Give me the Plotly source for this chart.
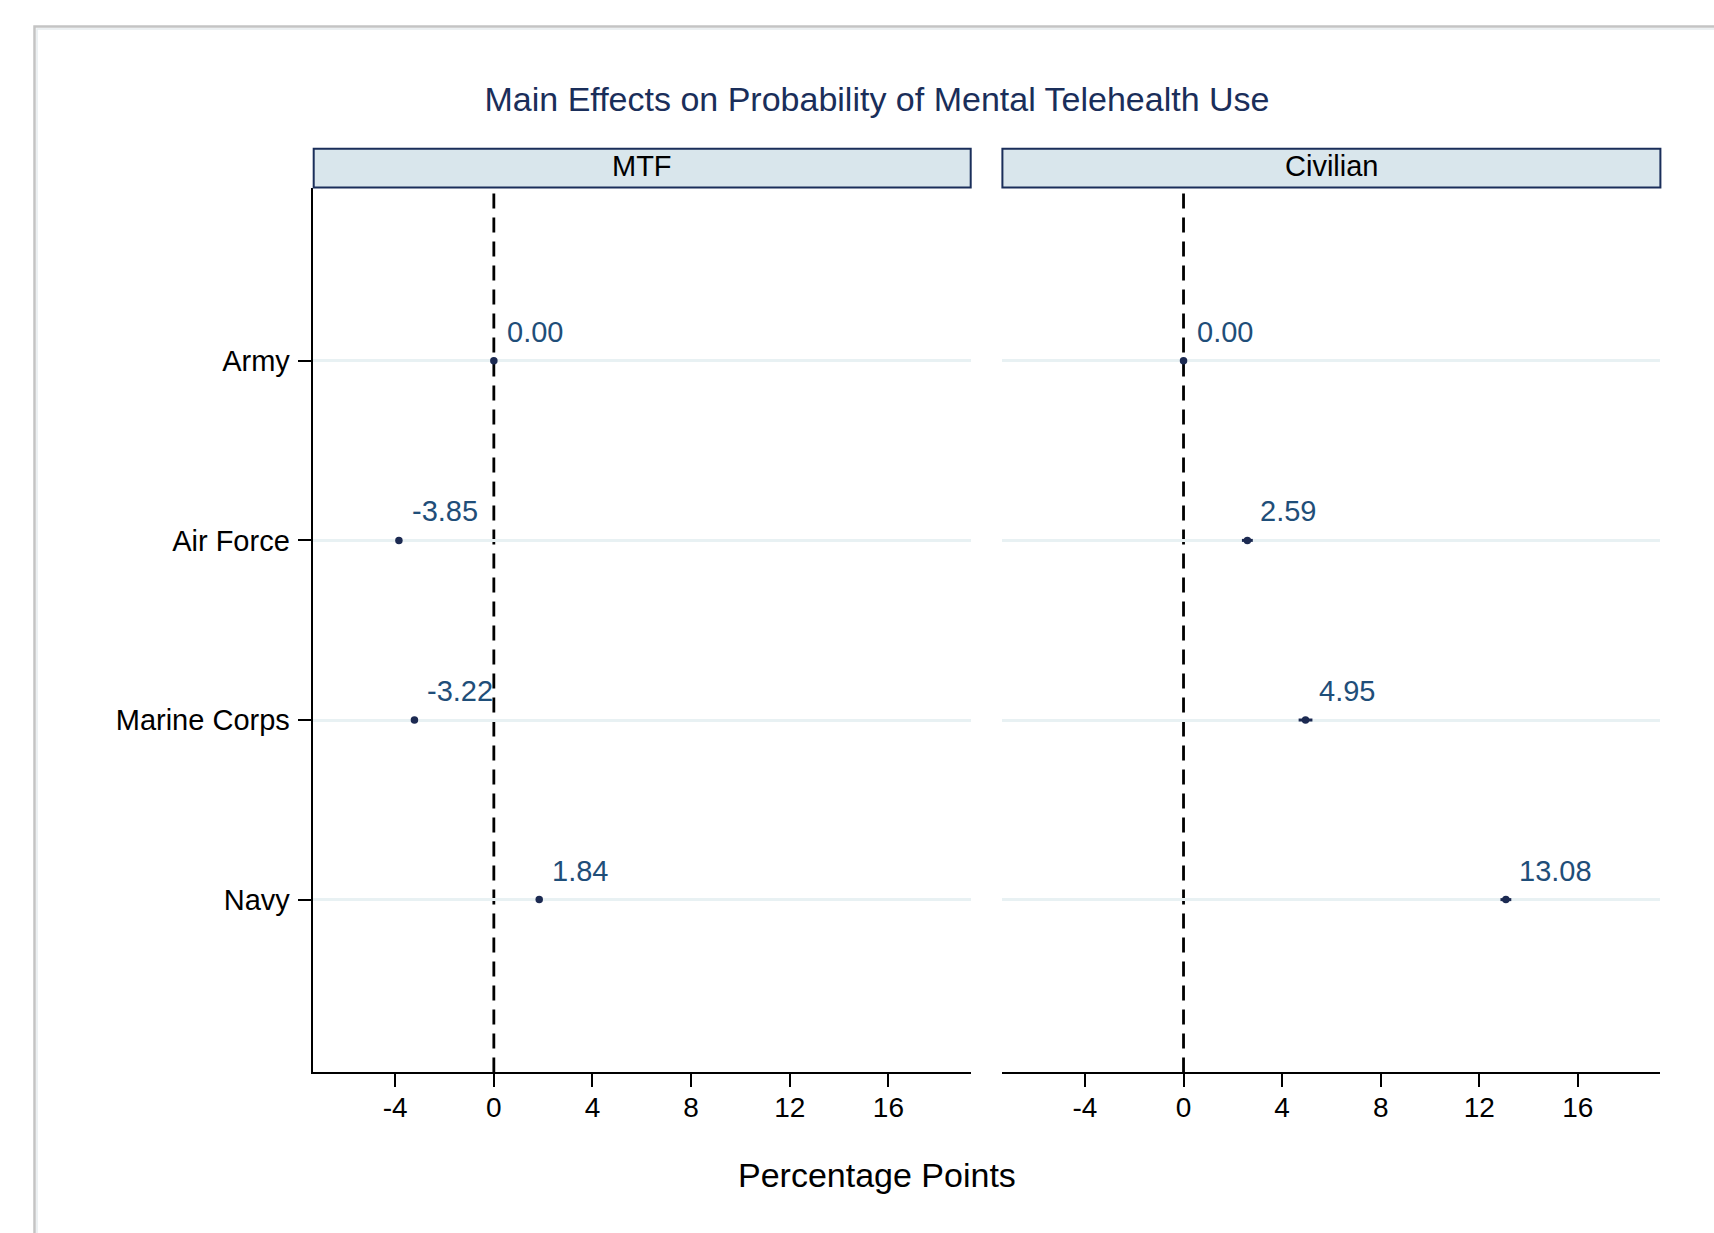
import plotly.graph_objects as go

# ---- data ----
categories = ["Army", "Air Force", "Marine Corps", "Navy"]
panel_names = ["MTF", "Civilian"]
mtf_effect = [0.00, -3.85, -3.22, 1.84]
mtf_ci_half = [0.00, 0.06, 0.06, 0.06]
civ_effect = [0.00, 2.59, 4.95, 13.08]
civ_ci_half = [0.00, 0.22, 0.28, 0.22]
x_ticks = [-4, 0, 4, 8, 12, 16]
x_tick_text = ["-4", "0", "4", "8", "12", "16"]

W, H = 1714, 1233
FONT = "Liberation Sans, Arial, Helvetica, sans-serif"
NAVY = "#1c2a52"
LABEL = "#1f4e79"
TITLE = "#1a2e5a"

def fx(p):
    return p / W

def fy(p):
    return 1 - p / H

ypos = list(range(len(categories)))

fig = go.Figure()

panels = [
    (mtf_effect, mtf_ci_half, "x", "y"),
    (civ_effect, civ_ci_half, "x2", "y2"),
]
for vals, ci, xa, ya in panels:
    fig.add_shape(type="line", xref=xa, yref=ya + " domain", x0=0, x1=0, y0=0, y1=1,
                  line=dict(color="black", width=2.8, dash="15px,9px"), layer="below")
    fig.add_trace(go.Scatter(
        x=vals, y=ypos, xaxis=xa, yaxis=ya, mode="markers",
        marker=dict(size=7.5, color=NAVY),
        error_x=dict(type="data", array=ci, color=NAVY, thickness=3, width=0),
        showlegend=False, hoverinfo="skip",
    ))
    for v, yy in zip(vals, ypos):
        fig.add_annotation(
            x=v, y=yy, xref=xa, yref=ya, text=f"{v:.2f}", showarrow=False,
            xanchor="left", yanchor="middle", xshift=11, yshift=29,
            font=dict(family=FONT, size=29, color=LABEL),
        )

xr = [-7.35, 19.35]
yr = [3.962, -0.962]
ydom = [fy(1072.4), fy(188)]
xdom1 = [fx(312.6), fx(971)]
xdom2 = [fx(1002.4), fx(1660.4)]

xcommon = dict(range=xr, tickvals=x_ticks, ticktext=x_tick_text, ticks="outside",
               ticklen=13, tickwidth=2, ticklabelstandoff=-4,
               tickcolor="black", showline=True, linecolor="black", linewidth=2,
               showgrid=False, zeroline=False,
               tickfont=dict(family=FONT, size=28, color="black"))
fig.update_layout(
    xaxis=dict(domain=xdom1, anchor="y", **xcommon),
    xaxis2=dict(domain=xdom2, anchor="y2", **xcommon),
    yaxis=dict(domain=ydom, anchor="x", range=yr, tickvals=ypos, ticktext=categories,
               ticks="outside", ticklen=13, tickwidth=2, tickcolor="black",
               ticklabelstandoff=2,
               showline=True, linecolor="black", linewidth=2,
               showgrid=True, gridcolor="#e8f1f3", gridwidth=3, zeroline=False,
               tickfont=dict(family=FONT, size=29, color="black")),
    yaxis2=dict(domain=ydom, anchor="x2", range=yr, tickvals=ypos, showticklabels=False,
                ticks="", showline=False,
                showgrid=True, gridcolor="#e8f1f3", gridwidth=3, zeroline=False),
    width=W, height=H,
    margin=dict(l=0, r=0, t=0, b=0),
    paper_bgcolor="white", plot_bgcolor="white",
    title=dict(text="Main Effects on Probability of Mental Telehealth Use",
               x=fx(877), y=fy(99.5), xanchor="center", yanchor="middle",
               font=dict(family=FONT, size=34, color=TITLE)),
)

# panel headers
for name, (x0, x1) in zip(panel_names, [(313.7, 970.7), (1002.4, 1660.4)]):
    fig.add_shape(type="rect", xref="paper", yref="paper", x0=fx(x0), x1=fx(x1),
                  y0=fy(187.5), y1=fy(148.7), fillcolor="#d9e6ec",
                  line=dict(color=TITLE, width=2))
    fig.add_annotation(xref="paper", yref="paper", x=fx((x0 + x1) / 2), y=fy(166),
                       text=name, showarrow=False, xanchor="center", yanchor="middle",
                       font=dict(family=FONT, size=29, color="black"))

# axis title
fig.add_annotation(xref="paper", yref="paper", x=fx(877), y=fy(1175),
                   text="Percentage Points", showarrow=False,
                   xanchor="center", yanchor="middle",
                   font=dict(family=FONT, size=34, color="black"))

# outer frame (only left/top visible)
fig.add_shape(type="rect", xref="paper", yref="paper", x0=fx(34.5), x1=1.05,
              y0=-0.05, y1=fy(26.5), line=dict(color="#c4c4c4", width=2.5))
fig.add_shape(type="rect", xref="paper", yref="paper", x0=fx(37), x1=1.05,
              y0=-0.05, y1=fy(29), line=dict(color="#e6ecee", width=1.5))

fig.write_html("out.html", config={"displayModeBar": False},
               post_script="document.body.style.margin='0';")
